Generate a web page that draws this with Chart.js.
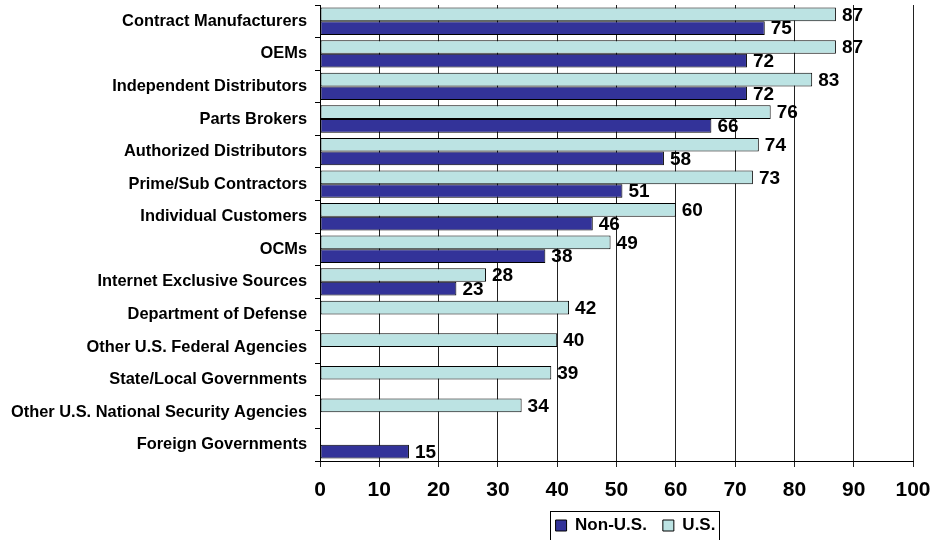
<!DOCTYPE html>
<html>
<head>
<meta charset="utf-8">
<script src="https://cdn.jsdelivr.net/npm/chart.js@4/dist/chart.umd.min.js"></script>
<style>
html,body{margin:0;padding:0;background:#fff;}
#wrap{width:935px;height:540px;position:relative;}
</style>
</head>
<body>
<div id="wrap"><canvas id="c" width="935" height="540"></canvas></div>
<script>
const categories = [
  "Contract Manufacturers",
  "OEMs",
  "Independent Distributors",
  "Parts Brokers",
  "Authorized Distributors",
  "Prime/Sub Contractors",
  "Individual Customers",
  "OCMs",
  "Internet Exclusive Sources",
  "Department of Defense",
  "Other U.S. Federal Agencies",
  "State/Local Governments",
  "Other U.S. National Security Agencies",
  "Foreign Governments"
];
const usValues    = [87, 87, 83, 76, 74, 73, 60, 49, 28, 42, 40, 39, 34, null];
const nonUsValues = [75, 72, 72, 66, 58, 51, 46, 38, 23, null, null, null, null, 15];
const xTicks = [0, 10, 20, 30, 40, 50, 60, 70, 80, 90, 100];

const FONT = "'Liberation Sans', Arial, sans-serif";

const valueLabels = {
  id: 'valueLabels',
  afterDatasetsDraw(chart) {
    const ctx = chart.ctx;
    ctx.save();
    ctx.font = "bold 19px " + FONT;
    ctx.fillStyle = '#000';
    ctx.textBaseline = 'middle';
    ctx.textAlign = 'left';
    chart.data.datasets.forEach((ds, di) => {
      const meta = chart.getDatasetMeta(di);
      meta.data.forEach((el, i) => {
        const v = ds.data[i];
        if (v === null || v === undefined) return;
        ctx.fillText(String(v), el.x + 6, el.y + 1);
      });
    });
    ctx.restore();
  }
};

const legendShift = {
  id: 'legendShift',
  afterLayout(chart) {
    const l = chart.legend;
    if (!l) return;
    l.left += 19;
    l.right += 19;
  },
  afterDraw(chart) {
    const l = chart.legend;
    if (!l || !l.legendHitBoxes.length) return;
    const hb = l.legendHitBoxes;
    const first = hb[0], last = hb[hb.length - 1];
    const ctx = chart.ctx;
    ctx.save();
    ctx.strokeStyle = '#000';
    ctx.lineWidth = 1;
    const x0 = Math.round(first.left - 6) + 0.5;
    const x1 = Math.round(last.left + last.width + 4) + 0.5;
    const cy = first.top + first.height / 2;
    const y0 = Math.round(cy - 15) + 0.5;
    ctx.strokeRect(x0, y0, x1 - x0, 40);
    ctx.restore();
  }
};

new Chart(document.getElementById('c'), {
  type: 'bar',
  data: {
    labels: categories,
    datasets: [
      {
        label: 'U.S.',
        data: usValues,
        backgroundColor: '#BCE3E3',
        borderColor: '#000',
        borderWidth: 1,
        borderSkipped: false,
        categoryPercentage: 0.84,
        barPercentage: 1.0
      },
      {
        label: 'Non-U.S.',
        data: nonUsValues,
        backgroundColor: '#333399',
        borderColor: '#000',
        borderWidth: 1,
        borderSkipped: false,
        categoryPercentage: 0.84,
        barPercentage: 1.0
      }
    ]
  },
  options: {
    indexAxis: 'y',
    responsive: false,
    animation: false,
    devicePixelRatio: 1,
    layout: { padding: { top: 5, right: 22, left: 4, bottom: -4 } },
    plugins: {
      legend: {
        position: 'bottom',
        reverse: true,
        fullSize: false,
        labels: {
          boxWidth: 11,
          boxHeight: 11,
          padding: 16,
          color: '#000',
          font: { family: FONT, size: 17, weight: 'bold' },
          generateLabels(chart) {
            return chart.data.datasets.map((ds, i) => ({
              text: ds.label,
              fillStyle: ds.backgroundColor,
              strokeStyle: '#000',
              lineWidth: 1,
              hidden: false,
              datasetIndex: i
            }));
          }
        }
      },
      tooltip: { enabled: false }
    },
    scales: {
      x: {
        min: 0,
        max: 100,
        afterBuildTicks(axis) { axis.ticks = xTicks.map(v => ({ value: v })); },
        afterFit(axis) { axis.height = 40; axis.paddingLeft = 0; axis.paddingRight = 0; },
        grid: {
          color: '#222',
          lineWidth: 1,
          drawTicks: true,
          tickLength: 6
        },
        border: { color: '#000', width: 1 },
        ticks: {
          color: '#000',
          padding: 11,
          font: { family: FONT, size: 21, weight: 'bold' }
        }
      },
      y: {
        offset: true,
        afterFit(axis) { axis.width = 316; axis.paddingTop = 0; axis.paddingBottom = 0; },
        grid: {
          offset: true,
          drawOnChartArea: false,
          drawTicks: true,
          tickLength: 5,
          color: '#000'
        },
        border: { color: '#000', width: 1 },
        ticks: {
          color: '#000',
          padding: 8,
          autoSkip: false,
          font: { family: FONT, size: 16.4, weight: 'bold' }
        }
      }
    }
  },
  plugins: [valueLabels, legendShift]
});
</script>
</body>
</html>
